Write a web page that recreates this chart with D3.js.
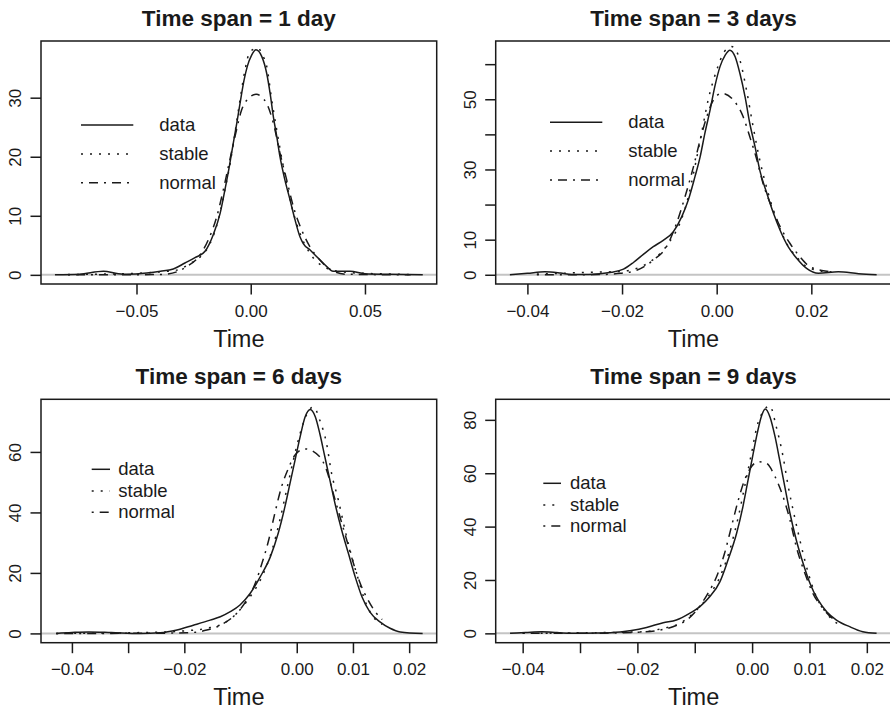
<!DOCTYPE html>
<html>
<head>
<meta charset="utf-8">
<script src="https://cdn.jsdelivr.net/npm/d3@7"></script>
<style>
  body { margin: 0; background: #fff; }
  svg text { font-family: "Liberation Sans", Arial, Helvetica, sans-serif; fill: #1a1a1a; }
</style>
</head>
<body>
<div class="chart"></div>
<script>
// Values: [return, density]
var titles = ["Time span = 1 day", "Time span = 3 days", "Time span = 6 days", "Time span = 9 days"];
var legendNames = ["data", "stable", "normal"];

var day1Data = [[-0.0857,0],[-0.075,0.1],[-0.0645,0.6],[-0.058,0.2],[-0.0543,0.1],[-0.0455,0.3],[-0.0395,0.6],[-0.0339,1.0],[-0.0288,2.0],[-0.0244,2.9],[-0.02,4.0],[-0.0164,6.8],[-0.0134,10.4],[-0.0113,14.4],[-0.0094,18.3],[-0.0079,21.7],[-0.0061,25.7],[-0.0047,29],[-0.0029,33],[-0.0015,35.3],[0.0004,37.2],[0.0023,38.1],[0.0048,37],[0.007,34.1],[0.0085,30.7],[0.0099,26.8],[0.0114,23.4],[0.0128,20],[0.015,16],[0.0172,12.7],[0.0194,9.3],[0.0216,6.4],[0.023,5.3],[0.026,4.2],[0.0296,2.8],[0.0333,1.4],[0.036,0.6],[0.0435,0.6],[0.05,0.2],[0.06,0.1],[0.0753,0]];
var day1Stable = [[-0.08,0.05],[-0.07,0.1],[-0.05,0.25],[-0.04,0.5],[-0.0324,0.8],[-0.0266,1.9],[-0.0222,3],[-0.0178,5.3],[-0.0142,9.3],[-0.0113,14.4],[-0.009,18.9],[-0.0069,24],[-0.0047,29.6],[-0.0025,34.7],[-0.0003,37.8],[0.0033,38.4],[0.005,37.3],[0.007,35.3],[0.0092,29.6],[0.0114,24.5],[0.0143,18.3],[0.018,11.5],[0.0216,7],[0.026,3.6],[0.0318,1.4],[0.04,0.5],[0.05,0.25],[0.06,0.15],[0.07,0.05]];
var day1Normal = [[-0.08,0],[-0.04,0.05],[-0.0324,0.5],[-0.028,1.4],[-0.0229,3],[-0.0186,5.9],[-0.0149,9.8],[-0.012,14.4],[-0.0098,18.3],[-0.0069,23.4],[-0.004,27.9],[-0.001,29.9],[0.0025,30.6],[0.0045,30.2],[0.007,29],[0.0099,25.7],[0.0128,20.6],[0.0158,16],[0.0187,11.5],[0.0223,7.6],[0.026,4.7],[0.0303,2.5],[0.034,1.1],[0.042,0.1],[0.07,0]];

var day3Data = [[-0.0437,0],[-0.04,0.4],[-0.0363,0.85],[-0.033,0.5],[-0.0306,0.1],[-0.027,0.1],[-0.0222,0.7],[-0.0197,1.6],[-0.0176,3.5],[-0.0155,5.8],[-0.0134,8.0],[-0.0113,9.8],[-0.0092,12.2],[-0.0074,16.5],[-0.006,21.3],[-0.0046,27.9],[-0.0035,33.6],[-0.0025,40.3],[-0.0014,46.9],[-0.0004,53.6],[0.0007,59.3],[0.0018,62.6],[0.0028,64],[0.0039,62.1],[0.0049,57.4],[0.006,50.7],[0.007,43.1],[0.0081,36.5],[0.0091,29.8],[0.0106,23.2],[0.012,17.5],[0.0134,12.7],[0.0151,8],[0.0169,4.7],[0.019,1.8],[0.0215,0.4],[0.0257,0.85],[0.03,0.3],[0.0338,0]];
var day3Stable = [[-0.038,0.2],[-0.033,0.4],[-0.0275,0.7],[-0.021,0.9],[-0.0183,1.3],[-0.0148,3.1],[-0.012,6],[-0.0099,9.5],[-0.0078,14.6],[-0.006,22.2],[-0.0046,30.8],[-0.0032,40.3],[-0.0018,49.8],[0,58.3],[0.0016,63.5],[0.0032,65],[0.0049,61.2],[0.0063,52.6],[0.0077,42.2],[0.0091,32.7],[0.0109,23.2],[0.0127,15.6],[0.0148,8.9],[0.0169,5.1],[0.019,2.3],[0.0215,1.2],[0.0245,0.8]];
var day3Normal = [[-0.038,0],[-0.025,0.05],[-0.0204,0.4],[-0.0169,1.3],[-0.0134,4.2],[-0.0106,8],[-0.0085,14.6],[-0.0067,22.2],[-0.0049,30.8],[-0.0035,38.4],[-0.0021,45],[-0.0007,49.8],[0.0011,51.7],[0.0035,49.8],[0.0056,45],[0.007,39.3],[0.0085,32.7],[0.0098,26],[0.0116,19.4],[0.0134,13.7],[0.0155,8.9],[0.0176,5.1],[0.0197,2.3],[0.0236,0.9],[0.0245,0.7]];

var day6Data = [[-0.0428,0],[-0.04,0.3],[-0.037,0.5],[-0.033,0.3],[-0.0279,0],[-0.0243,0.2],[-0.0213,1.1],[-0.0184,2.7],[-0.0154,4.4],[-0.0136,5.5],[-0.0119,7.1],[-0.0101,9.4],[-0.0083,13.2],[-0.0065,18.7],[-0.0047,25.3],[-0.0033,33.1],[-0.0021,41.9],[-0.0012,49.6],[-0.0003,57.3],[0.0006,65],[0.0015,71.6],[0.0024,74],[0.0033,71.6],[0.0041,66.1],[0.005,58.4],[0.0059,50.7],[0.0068,43],[0.008,34.1],[0.0092,26.4],[0.0104,18.7],[0.0116,12.1],[0.013,7.1],[0.0148,3.8],[0.0166,1.7],[0.0184,0.5],[0.0224,0]];
var day6Stable = [[-0.0428,0],[-0.035,0.1],[-0.0231,0.5],[-0.0196,0.9],[-0.016,1.7],[-0.013,3.3],[-0.0107,6.6],[-0.0083,12.1],[-0.0062,18.7],[-0.0044,27.5],[-0.003,37.5],[-0.0018,47.4],[-0.0006,57.3],[0.0006,66.1],[0.0018,72.5],[0.003,74.9],[0.0041,70.5],[0.0053,62.8],[0.0062,52.9],[0.0074,44.1],[0.0086,34.1],[0.0098,25.3],[0.011,17.6],[0.0121,11],[0.0136,5.5],[0.0152,3]];
var day6Normal = [[-0.0428,0],[-0.03,0.02],[-0.0196,0.2],[-0.016,1.1],[-0.013,3.3],[-0.0107,6.6],[-0.0089,11],[-0.0074,16.5],[-0.0062,23.1],[-0.005,30.8],[-0.0039,39.7],[-0.0027,48.5],[-0.0015,54.5],[-0.0003,59],[0.0015,61],[0.0041,58.4],[0.0053,54],[0.0065,46.3],[0.0077,38.5],[0.0089,30.8],[0.0101,23.1],[0.0113,16.5],[0.0127,11],[0.0142,6.6],[0.0152,4.6]];

var day9Data = [[-0.0422,0],[-0.0395,0.3],[-0.0367,0.6],[-0.034,0.3],[-0.0315,0],[-0.027,0.1],[-0.023,0.5],[-0.0213,1],[-0.0184,2.2],[-0.0155,4],[-0.0132,5],[-0.0109,7.5],[-0.0091,10],[-0.0074,13.7],[-0.0056,19.4],[-0.0042,27.5],[-0.0027,37.5],[-0.0016,47.5],[-0.0007,57.5],[0.0002,67.5],[0.0009,75],[0.0016,81.2],[0.0023,84.1],[0.0031,81.2],[0.004,73.7],[0.0048,65],[0.0057,55],[0.0066,45],[0.0077,35],[0.0089,26.2],[0.0101,18.7],[0.0115,12.5],[0.013,8.1],[0.0147,5],[0.017,2.5],[0.0193,0.6],[0.0217,0]];
var day9Stable = [[-0.04,0],[-0.03,0.2],[-0.023,0.4],[-0.019,0.6],[-0.0155,1.9],[-0.0126,3.7],[-0.01,8.1],[-0.0077,13.7],[-0.0056,21.2],[-0.0039,31.2],[-0.0024,43.7],[-0.0013,55],[-0.0001,67.5],[0.001,78.7],[0.0031,85.2],[0.0042,77.5],[0.0054,66.2],[0.0063,55],[0.0074,43.7],[0.0086,32.5],[0.0098,22.5],[0.0112,13.7],[0.013,7.5],[0.0147,3.9],[0.0155,3]];
var day9Normal = [[-0.04,0],[-0.028,0.05],[-0.0201,0.4],[-0.0167,1],[-0.0138,2.5],[-0.0114,5],[-0.0094,9.4],[-0.0077,15],[-0.0062,21.2],[-0.0048,30],[-0.0036,40],[-0.0024,50],[-0.0013,57.5],[-0.0001,62.5],[0.001,64.3],[0.0025,63.7],[0.004,58.7],[0.0054,51.2],[0.0066,42.5],[0.0077,32.5],[0.0092,22.5],[0.0106,15],[0.0121,10],[0.0138,6],[0.0148,4.5]];

// tick positions, and the subset that carries a label
var day1XTicks = [-0.05, 0, 0.05];
var day1YTicks = [0, 10, 20, 30];
var day3XTicks = [-0.04, -0.02, 0, 0.02];
var day3YTicks = [0, 10, 20, 30, 40, 50, 60];
var day3YLabels = [0, 10, 30, 50];
var longXTicks = [-0.04, -0.03, -0.02, -0.01, 0, 0.01, 0.02];
var longXLabels = [-0.04, -0.02, 0, 0.01, 0.02];
var day6YTicks = [0, 20, 40, 60];
var day9YTicks = [0, 20, 40, 60, 80];

// Set up the panels (layout only)
var panels = [
  { title: titles[0], series: [day1Normal, day1Stable, day1Data],
    xTicks: day1XTicks, xLabels: day1XTicks, yTicks: day1YTicks, yLabels: day1YTicks,
    xDomain: [-0.0918, 0.0814], yDomain: [-1.55, 39.6],
    box: { left: 41, right: 436.7, top: 41, bottom: 284 },
    legend: { x1: 81, x2: 133.3, tx: 159.3, rows: [125, 154, 182.7] } },
  { title: titles[1], series: [day3Normal, day3Stable, day3Data],
    xTicks: day3XTicks, xLabels: day3XTicks, yTicks: day3YTicks, yLabels: day3YLabels,
    xDomain: [-0.0467, 0.0369], yDomain: [-2.63, 66.6],
    box: { left: 495.7, right: 891.3, top: 41, bottom: 284 },
    legend: { x1: 550, x2: 602.3, tx: 628.3, rows: [122.3, 151, 180] } },
  { title: titles[2], series: [day6Normal, day6Stable, day6Data],
    xTicks: longXTicks, xLabels: longXLabels, yTicks: day6YTicks, yLabels: day6YTicks,
    xDomain: [-0.0455, 0.0249], yDomain: [-3.07, 77.4],
    box: { left: 41, right: 436.7, top: 399.3, bottom: 642.7 },
    legend: { x1: 91.7, x2: 110, tx: 118.3, rows: [469.3, 491, 512.3] } },
  { title: titles[3], series: [day9Normal, day9Stable, day9Data],
    xTicks: longXTicks, xLabels: longXLabels, yTicks: day9YTicks, yLabels: day9YTicks,
    xDomain: [-0.0447, 0.0243], yDomain: [-3.5, 87.7],
    box: { left: 495.7, right: 891.5, top: 399.3, bottom: 642.7 },
    legend: { x1: 543.3, x2: 561, tx: 570, rows: [483.3, 505, 526] } }
];

// line styles: normal, stable, data
var dashes = ["2,6,9,6", "2,7", null];
var ink = "#1a1a1a";

var svg = d3.select(".chart")
    .append("svg")
    .attr("width", 890)
    .attr("height", 709);

var xFmt = d3.format(".2f");

panels.forEach(function(p, i) {
  var b = p.box;
  var x = d3.scaleLinear().domain(p.xDomain).range([b.left, b.right]);
  var y = d3.scaleLinear().domain(p.yDomain).range([b.bottom, b.top]);
  var g = svg.append("g");

  g.append("clipPath").attr("id", "clip" + i)
    .append("rect")
    .attr("x", b.left).attr("y", b.top)
    .attr("width", b.right - b.left).attr("height", b.bottom - b.top);

  // grey zero line
  g.append("line")
    .attr("x1", b.left).attr("x2", b.right)
    .attr("y1", y(0)).attr("y2", y(0))
    .attr("stroke", "#c4c4c4")
    .attr("stroke-width", 2);

  // density curves
  var line = d3.line()
    .x(d => x(d[0]))
    .y(d => y(d[1]))
    .curve(d3.curveMonotoneX);

  g.append("g").attr("clip-path", "url(#clip" + i + ")")
    .selectAll("path")
    .data(p.series)
    .enter()
    .append("path")
    .attr("d", line)
    .attr("fill", "none")
    .attr("stroke", ink)
    .attr("stroke-width", 1.5)
    .attr("stroke-dasharray", (d, k) => dashes[k]);

  // axes
  var bottomAxis = d3.axisBottom(x)
    .tickValues(p.xTicks)
    .tickSize(10.5)
    .tickPadding(10)
    .tickFormat(d => p.xLabels.indexOf(d) >= 0 ? xFmt(d) : "");

  var leftAxis = d3.axisLeft(y)
    .tickValues(p.yTicks)
    .tickSize(10.5)
    .tickFormat(d => p.yLabels.indexOf(d) >= 0 ? d : "");

  var xg = g.append("g")
    .attr("transform", `translate(0, ${b.bottom})`)
    .call(bottomAxis);

  var yg = g.append("g")
    .attr("transform", `translate(${b.left}, 0)`)
    .call(leftAxis);

  [xg, yg].forEach(function(a) {
    a.select(".domain").remove();
    a.attr("font-family", null).attr("font-size", null);
    a.selectAll("line").attr("stroke", ink).attr("stroke-width", 1.5);
    a.selectAll("text").style("font-size", "17px").attr("fill", ink);
  });

  yg.selectAll("text")
    .attr("transform", "rotate(-90)")
    .attr("x", 0)
    .attr("y", -20)
    .attr("dy", 0)
    .attr("text-anchor", "middle");

  // frame
  g.append("rect")
    .attr("x", b.left).attr("y", b.top)
    .attr("width", b.right - b.left).attr("height", b.bottom - b.top)
    .attr("fill", "none")
    .attr("stroke", ink)
    .attr("stroke-width", 1.5);

  // title and axis label
  g.append("text")
    .attr("x", (b.left + b.right) / 2)
    .attr("y", b.top - 15)
    .attr("text-anchor", "middle")
    .style("font-size", "22.5px")
    .style("font-weight", "bold")
    .text(p.title);

  g.append("text")
    .attr("x", (b.left + b.right) / 2)
    .attr("y", b.bottom + 62.7)
    .attr("text-anchor", "middle")
    .style("font-size", "23.5px")
    .text("Time");

  // legend: data, stable, normal
  var lg = p.legend;
  var legendDash = [null, dashes[1], dashes[0]];
  legendNames.forEach(function(name, k) {
    g.append("line")
      .attr("x1", lg.x1).attr("x2", lg.x2)
      .attr("y1", lg.rows[k]).attr("y2", lg.rows[k])
      .attr("stroke", ink)
      .attr("stroke-width", 1.5)
      .attr("stroke-dasharray", legendDash[k]);
    g.append("text")
      .attr("x", lg.tx)
      .attr("y", lg.rows[k] + 6)
      .style("font-size", "18.5px")
      .text(name);
  });
});
</script>
</body>
</html>
